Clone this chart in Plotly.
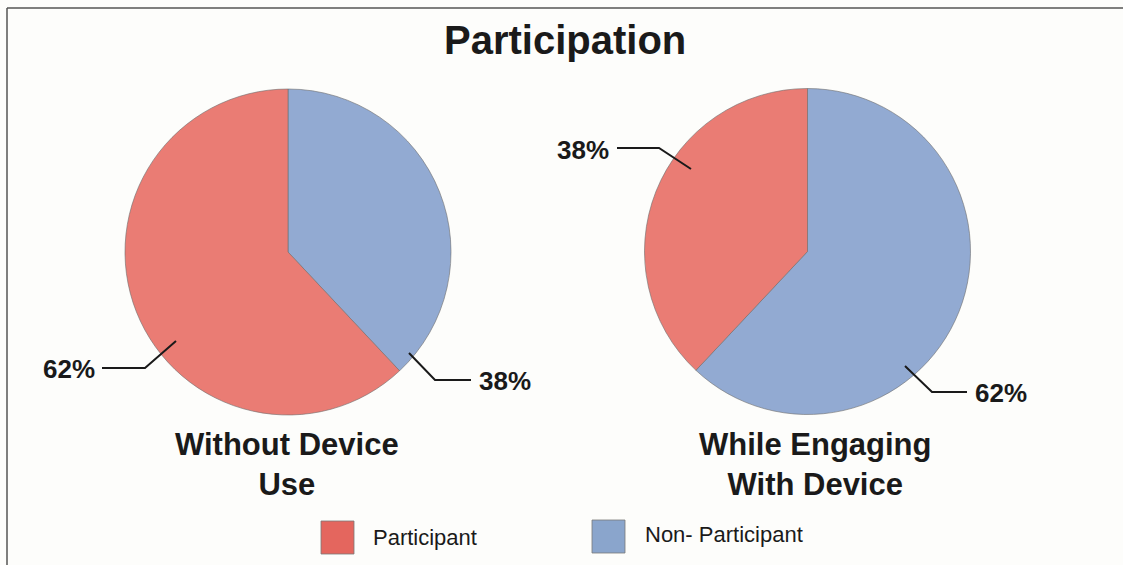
import plotly.graph_objects as go

# Chart data
categories = ["Participant", "Non- Participant"]
without_device = [62, 38]
with_device = [38, 62]
panel_titles = ["Without Device<br>Use", "While Engaging<br>With Device"]
chart_title = "Participation"

W, H = 1123, 565
RED, BLUE = "#EA7C74", "#92AAD2"
RED_KEY, BLUE_KEY = "#E4665E", "#8AA5CC"
INK = "#1a1a1a"
FONT = "Liberation Sans, Arial, sans-serif"


def px(x):
    return x / W


def py(y):
    return 1 - y / H


def pie_domain(cx, cy, r):
    return dict(x=[px(cx - r), px(cx + r)], y=[py(cy + r), py(cy - r)])


fig = go.Figure()

# Non-participants fill clockwise from 12 o'clock, participants take the rest
for values, (cx, cy) in [(without_device, (288, 252)), (with_device, (807.5, 251.5))]:
    fig.add_trace(go.Pie(
        labels=categories[::-1],
        values=values[::-1],
        sort=False,
        direction="clockwise",
        rotation=0,
        textinfo="none",
        hoverinfo="label+percent",
        marker=dict(colors=[BLUE, RED], line=dict(color="rgba(110,110,110,0.6)", width=1)),
        domain=pie_domain(cx, cy, 163),
        showlegend=False,
    ))

annotations = []
shapes = []

# Title
annotations.append(dict(text=f"<b>{chart_title}</b>", x=px(565), y=py(40), xref="paper", yref="paper",
                        showarrow=False, font=dict(size=40, color=INK, family=FONT),
                        xanchor="center", yanchor="middle"))

# Panel captions
for text, cx in zip(panel_titles, [287, 815]):
    annotations.append(dict(text=f"<b>{text}</b>", x=px(cx), y=py(465), xref="paper", yref="paper",
                            showarrow=False, font=dict(size=31, color=INK, family=FONT),
                            xanchor="center", yanchor="middle", align="center"))

# Percentage labels with elbow leader lines
label_specs = [
    # value, text anchor point, anchor side, leader path points
    (without_device[0], (97, 369), "right", [(102, 368), (145, 368), (176, 341)]),
    (without_device[1], (477, 381), "left", [(409, 353), (435, 380), (471, 380)]),
    (with_device[0], (611, 150), "right", [(617, 148), (659, 148), (691, 169)]),
    (with_device[1], (973, 393), "left", [(905, 366), (932, 392), (967, 392)]),
]
for value, (tx, ty), side, pts in label_specs:
    annotations.append(dict(text=f"<b>{value}%</b>", x=px(tx), y=py(ty), xref="paper", yref="paper",
                            showarrow=False, font=dict(size=26, color=INK, family=FONT),
                            xanchor=side, yanchor="middle"))
    path = "M " + " L ".join(f"{px(x):.5f},{py(y):.5f}" for x, y in pts)
    shapes.append(dict(type="path", path=path, xref="paper", yref="paper",
                       line=dict(color=INK, width=2)))

# Legend keys
for name, color, (kx, ky), tx, ty in [
    (categories[0], RED_KEY, (321, 521), 371, 537),
    (categories[1], BLUE_KEY, (592, 520), 643, 534),
]:
    shapes.append(dict(type="rect", xref="paper", yref="paper",
                       x0=px(kx), x1=px(kx + 33), y0=py(ky + 33), y1=py(ky),
                       fillcolor=color, line=dict(color="rgba(120,120,120,0.8)", width=1)))
    annotations.append(dict(text=name, x=px(tx), y=py(ty), xref="paper", yref="paper",
                            showarrow=False, font=dict(size=22, color=INK, family=FONT),
                            xanchor="left", yanchor="middle"))

# Frame around the chart area (left and top edges only)
frame = dict(color="#555555", width=1.5)
shapes.append(dict(type="line", xref="paper", yref="paper",
                   x0=px(7), x1=px(7), y0=0, y1=py(8), line=frame))
shapes.append(dict(type="line", xref="paper", yref="paper",
                   x0=px(7), x1=px(1123), y0=py(8), y1=py(8), line=frame))

fig.update_layout(
    width=W, height=H,
    margin=dict(l=0, r=0, t=0, b=0),
    paper_bgcolor="#FDFDFB",
    plot_bgcolor="#FDFDFB",
    annotations=annotations,
    shapes=shapes,
    showlegend=False,
)

fig.write_html("out.html", config={"responsive": False})
